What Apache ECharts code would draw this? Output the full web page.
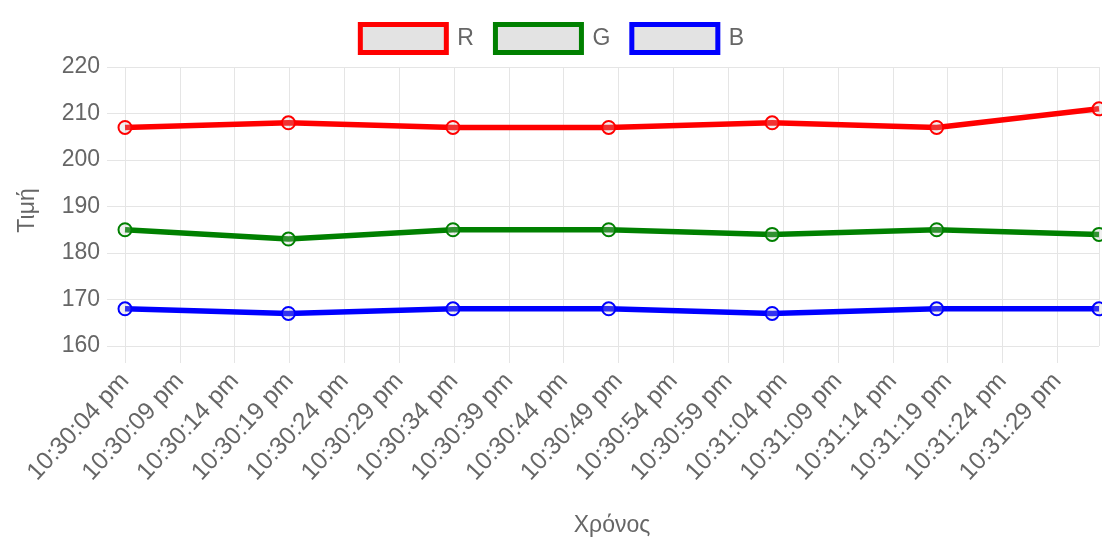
<!DOCTYPE html>
<html>
<head>
<meta charset="utf-8">
<script src="https://cdn.jsdelivr.net/npm/echarts@6/dist/echarts.min.js"></script>
<style>
html,body{margin:0;padding:0;background:#fff;}
#c{width:1102px;height:542px;}
</style>
</head>
<body>
<div id="c"></div>
<script>
// Data
const axisStart = '22:30:04';           // first x tick
const tickStepSeconds = 5;
const times = ['22:30:04.0','22:30:18.9','22:30:33.9','22:30:48.1','22:31:03.0','22:31:18.0','22:31:32.8'];
const seriesNames = ['R','G','B'];
const rValues = [207, 208, 207, 207, 208, 207, 211];
const gValues = [185, 183, 185, 185, 184, 185, 184];
const bValues = [168, 167, 168, 168, 167, 168, 168];
const seriesColors = ['#ff0000', '#008000', '#0000ff'];
const yAxisName = 'Τιμή';
const xAxisName = 'Χρόνος';

function toSec(s){ const p = s.split(':').map(Number); return p[0]*3600 + p[1]*60 + p[2]; }
const base = toSec(axisStart);
function fmt(v){
  let t = Math.round(base + v);
  const h24 = Math.floor(t/3600) % 24, m = Math.floor(t/60) % 60, s = t % 60;
  let h = h24 % 12; if (h === 0) h = 12;
  const pad = n => (n < 10 ? '0' : '') + n;
  return h + ':' + pad(m) + ':' + pad(s) + ' ' + (h24 >= 12 ? 'pm' : 'am');
}
const xs = times.map(t => +(toSec(t) - base).toFixed(2));
const allVals = [rValues, gValues, bValues];

const font = 'Liberation Sans, Arial, Helvetica, sans-serif';
const grid = '#e5e5e5';

const chart = echarts.init(document.getElementById('c'), null, {renderer:'canvas'});
chart.setOption({
  animation: false,
  backgroundColor: '#fff',
  legend: {
    top: 17,
    left: 'center',
    icon: 'rect',
    itemWidth: 86,
    itemHeight: 28,
    itemGap: 19,
    textStyle: { color: '#666', fontSize: 23, fontFamily: font, padding: [0,0,0,6] },
    data: seriesNames.map((n,i) => ({
      name: n,
      itemStyle: { color: '#e3e3e3', borderColor: seriesColors[i], borderWidth: 5 }
    }))
  },
  grid: { left: 125, right: 3, top: 67, bottom: 196, containLabel: false, outerBoundsMode: 'none' },
  xAxis: {
    type: 'value',
    min: 0,
    max: xs[xs.length-1],
    interval: tickStepSeconds,
    name: xAxisName,
    nameLocation: 'middle',
    nameGap: 168,
    nameTextStyle: { color: '#666', fontSize: 23, fontFamily: font },
    axisLine: { show: false },
    axisTick: { show: true, length: 17, lineStyle: { color: grid } },
    splitLine: { show: true, lineStyle: { color: grid, width: 1 } },
    axisLabel: {
      rotate: 47, color: '#666', fontSize: 24.5, fontFamily: font, margin: 31,
      showMaxLabel: false,
      formatter: fmt
    }
  },
  yAxis: {
    type: 'value',
    min: 160, max: 220, interval: 10,
    name: yAxisName,
    nameLocation: 'middle',
    nameGap: 86,
    nameRotate: 90,
    nameTextStyle: { color: '#666', fontSize: 23, fontFamily: font, padding: [0,8,0,0] },
    axisLine: { show: false },
    axisTick: { show: true, length: 18, lineStyle: { color: grid } },
    splitLine: { show: true, lineStyle: { color: grid, width: 1 } },
    axisLabel: { color: '#666', fontSize: 23, fontFamily: font, margin: 25 }
  },
  series: seriesNames.map((n,i) => ({
    name: n,
    type: 'line',
    data: xs.map((x,j) => [x, allVals[i][j]]),
    symbol: 'circle',
    symbolSize: 13,
    showAllSymbol: true,
    clip: false,
    lineStyle: { color: seriesColors[i], width: 5.5 },
    itemStyle: { color: 'rgba(200,200,200,0.25)', borderColor: seriesColors[i], borderWidth: 2 },
    z: 2
  }))
});
</script>
</body>
</html>
